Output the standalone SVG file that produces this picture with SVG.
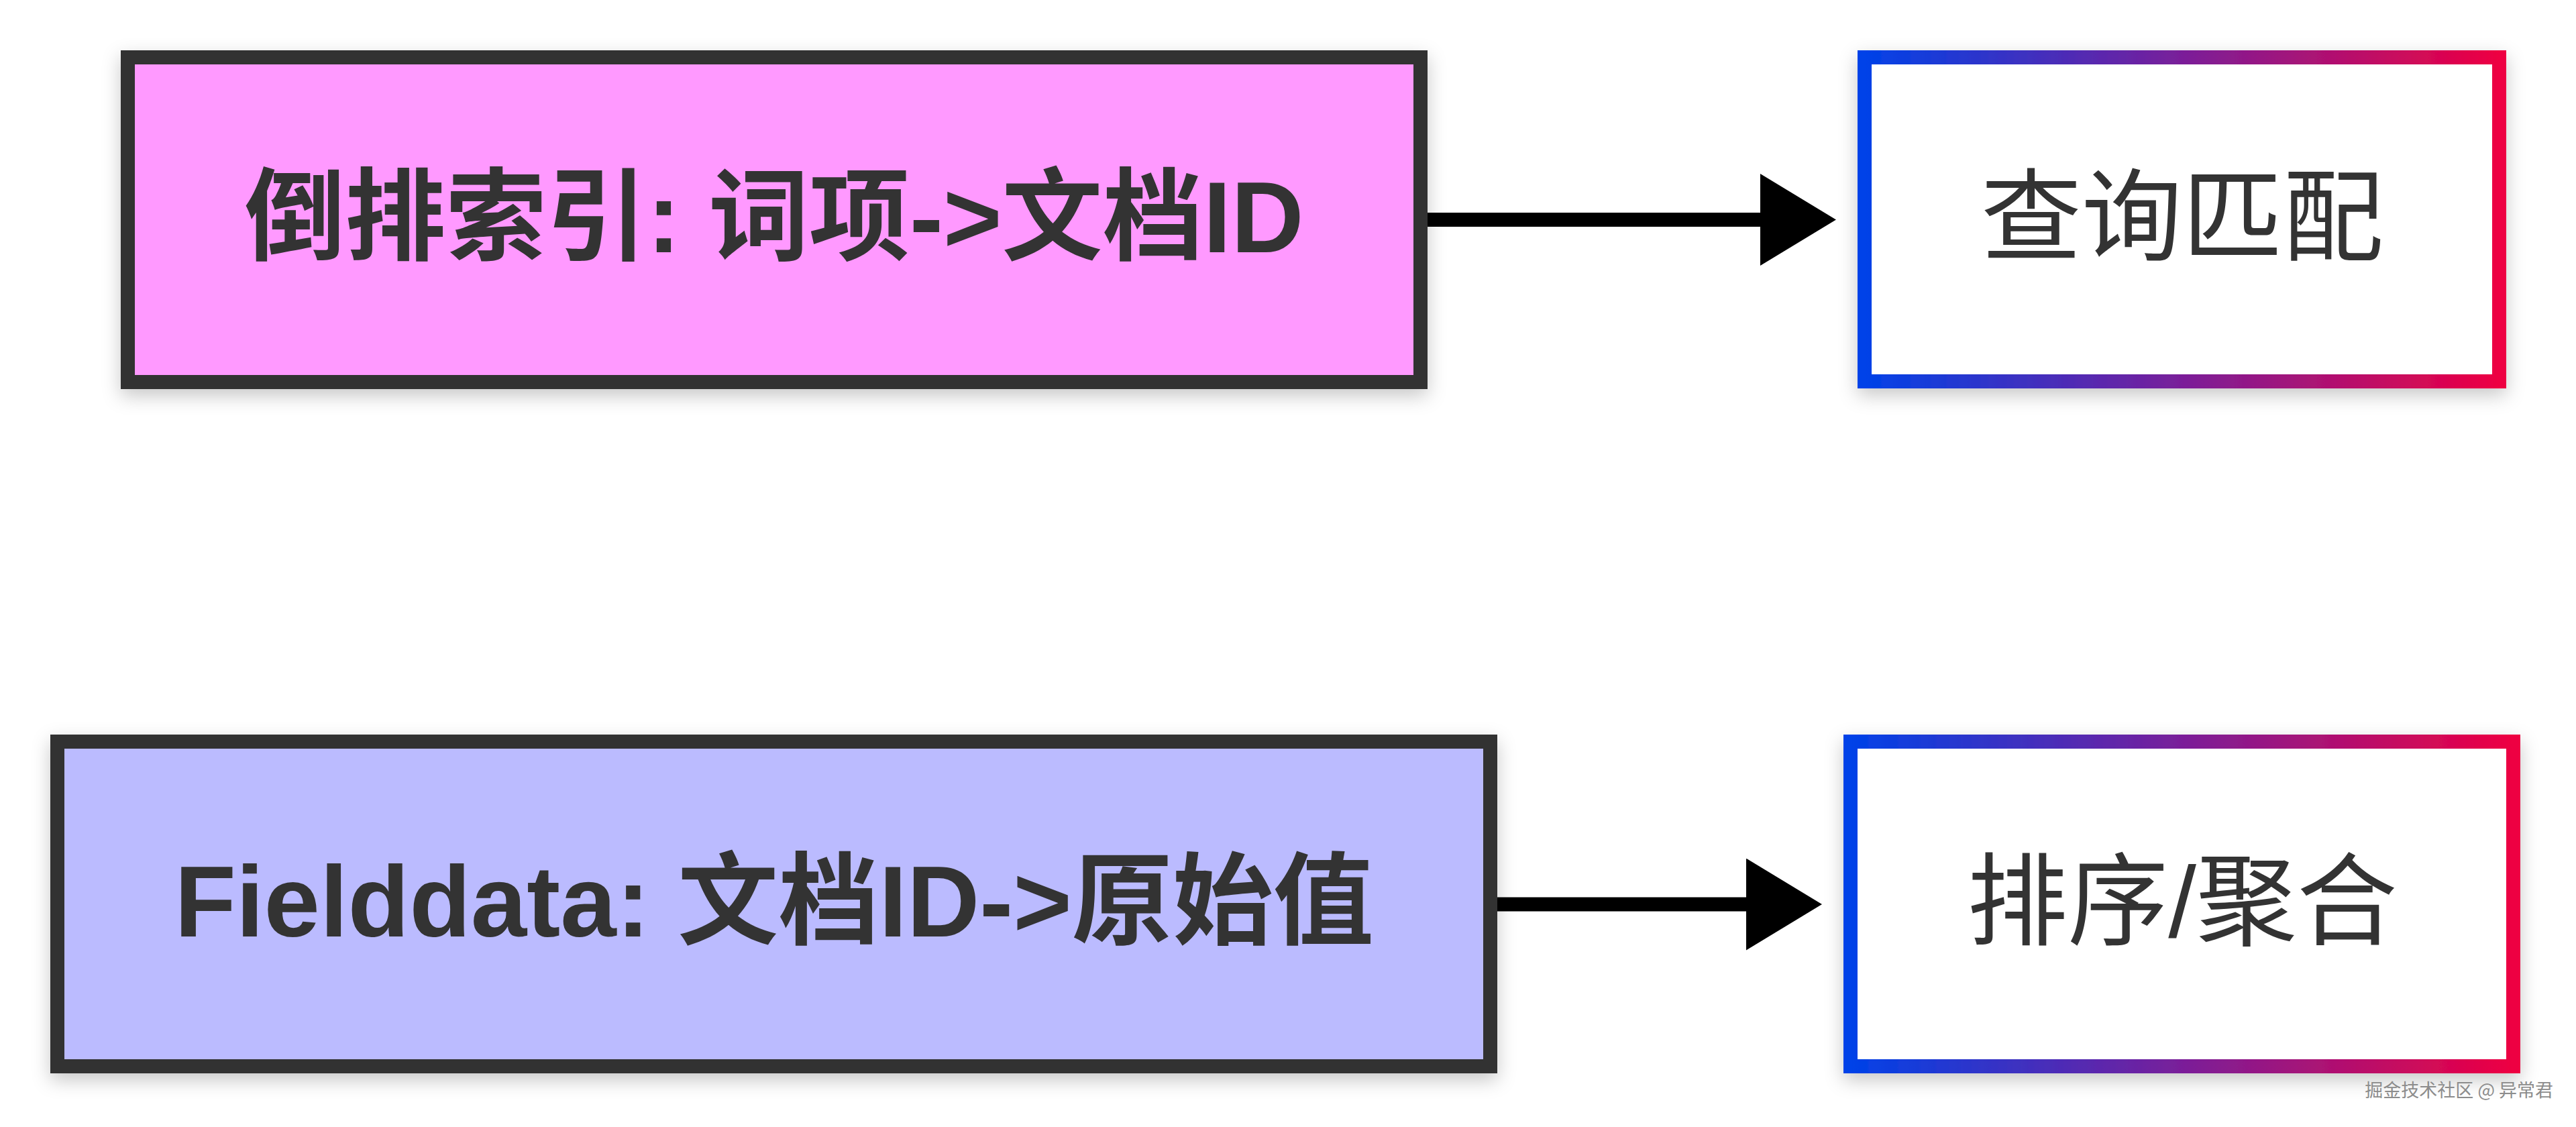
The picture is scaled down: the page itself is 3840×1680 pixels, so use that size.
<svg xmlns="http://www.w3.org/2000/svg" width="3840" height="1680" viewBox="0 0 3840 1680">
  <style>
    .box { stroke-width: 21; }
    .dark { stroke: #333333; }
    .grad { stroke: url(#edge); fill: #ffffff; }
    .lbl { font-family: "Liberation Sans", "Noto Sans CJK SC", sans-serif; font-size: 150px; fill: #333333; text-anchor: middle; }
    .bold { font-weight: bold; }
    .conn { stroke: #000000; stroke-width: 21; fill: none; stroke-linecap: butt; }
    .wm { font-family: "Noto Sans CJK SC", sans-serif; font-size: 27px; fill: #8c8c8c; text-anchor: end; }
  </style>
  <defs>
    <linearGradient id="edge" x1="0" y1="0" x2="1" y2="0">
      <stop offset="0" stop-color="#0042e8"/>
      <stop offset="0.5" stop-color="#7a1f99"/>
      <stop offset="1" stop-color="#ee0042"/>
    </linearGradient>
    <filter id="shadow" x="-10%" y="-20%" width="120%" height="150%">
      <feDropShadow dx="0" dy="10" stdDeviation="14" flood-color="#000000" flood-opacity="0.22"/>
    </filter>
    <marker id="head" viewBox="0 0 113 137" markerWidth="113" markerHeight="137" refX="1" refY="68.5" markerUnits="userSpaceOnUse" orient="auto">
      <path d="M0,0 L113,68.5 L0,137 Z" fill="#000000"/>
    </marker>
  </defs>
  <rect width="3840" height="1680" fill="#ffffff"/>

  <g id="inverted-index">
    <rect class="box dark" x="190.5" y="85.5" width="1927" height="484" fill="#ff99ff" filter="url(#shadow)"/>
    <text class="lbl bold" x="1154" y="376">倒排索引: 词项-&gt;文档ID</text>
  </g>

  <g id="query-match">
    <rect class="box grad" x="2779.5" y="85.5" width="946" height="483" filter="url(#shadow)"/>
    <text class="lbl" x="3253" y="377">查询匹配</text>
  </g>

  <g id="fielddata">
    <rect class="box dark" x="85.5" y="1105.5" width="2136" height="484" fill="#bbbbff" filter="url(#shadow)"/>
    <text class="lbl bold" x="1154" y="1396">Fielddata: 文档ID-&gt;原始值</text>
  </g>

  <g id="sort-agg">
    <rect class="box grad" x="2758.5" y="1105.5" width="988" height="484" filter="url(#shadow)"/>
    <text class="lbl" x="3253" y="1397">排序/聚合</text>
  </g>

  <g id="connectors">
    <path class="conn" d="M2128,327.5 H2625" marker-end="url(#head)"/>
    <path class="conn" d="M2232,1348 H2604" marker-end="url(#head)"/>
  </g>

  <text class="wm" x="3806" y="1635">掘金技术社区 @ 异常君</text>
</svg>
